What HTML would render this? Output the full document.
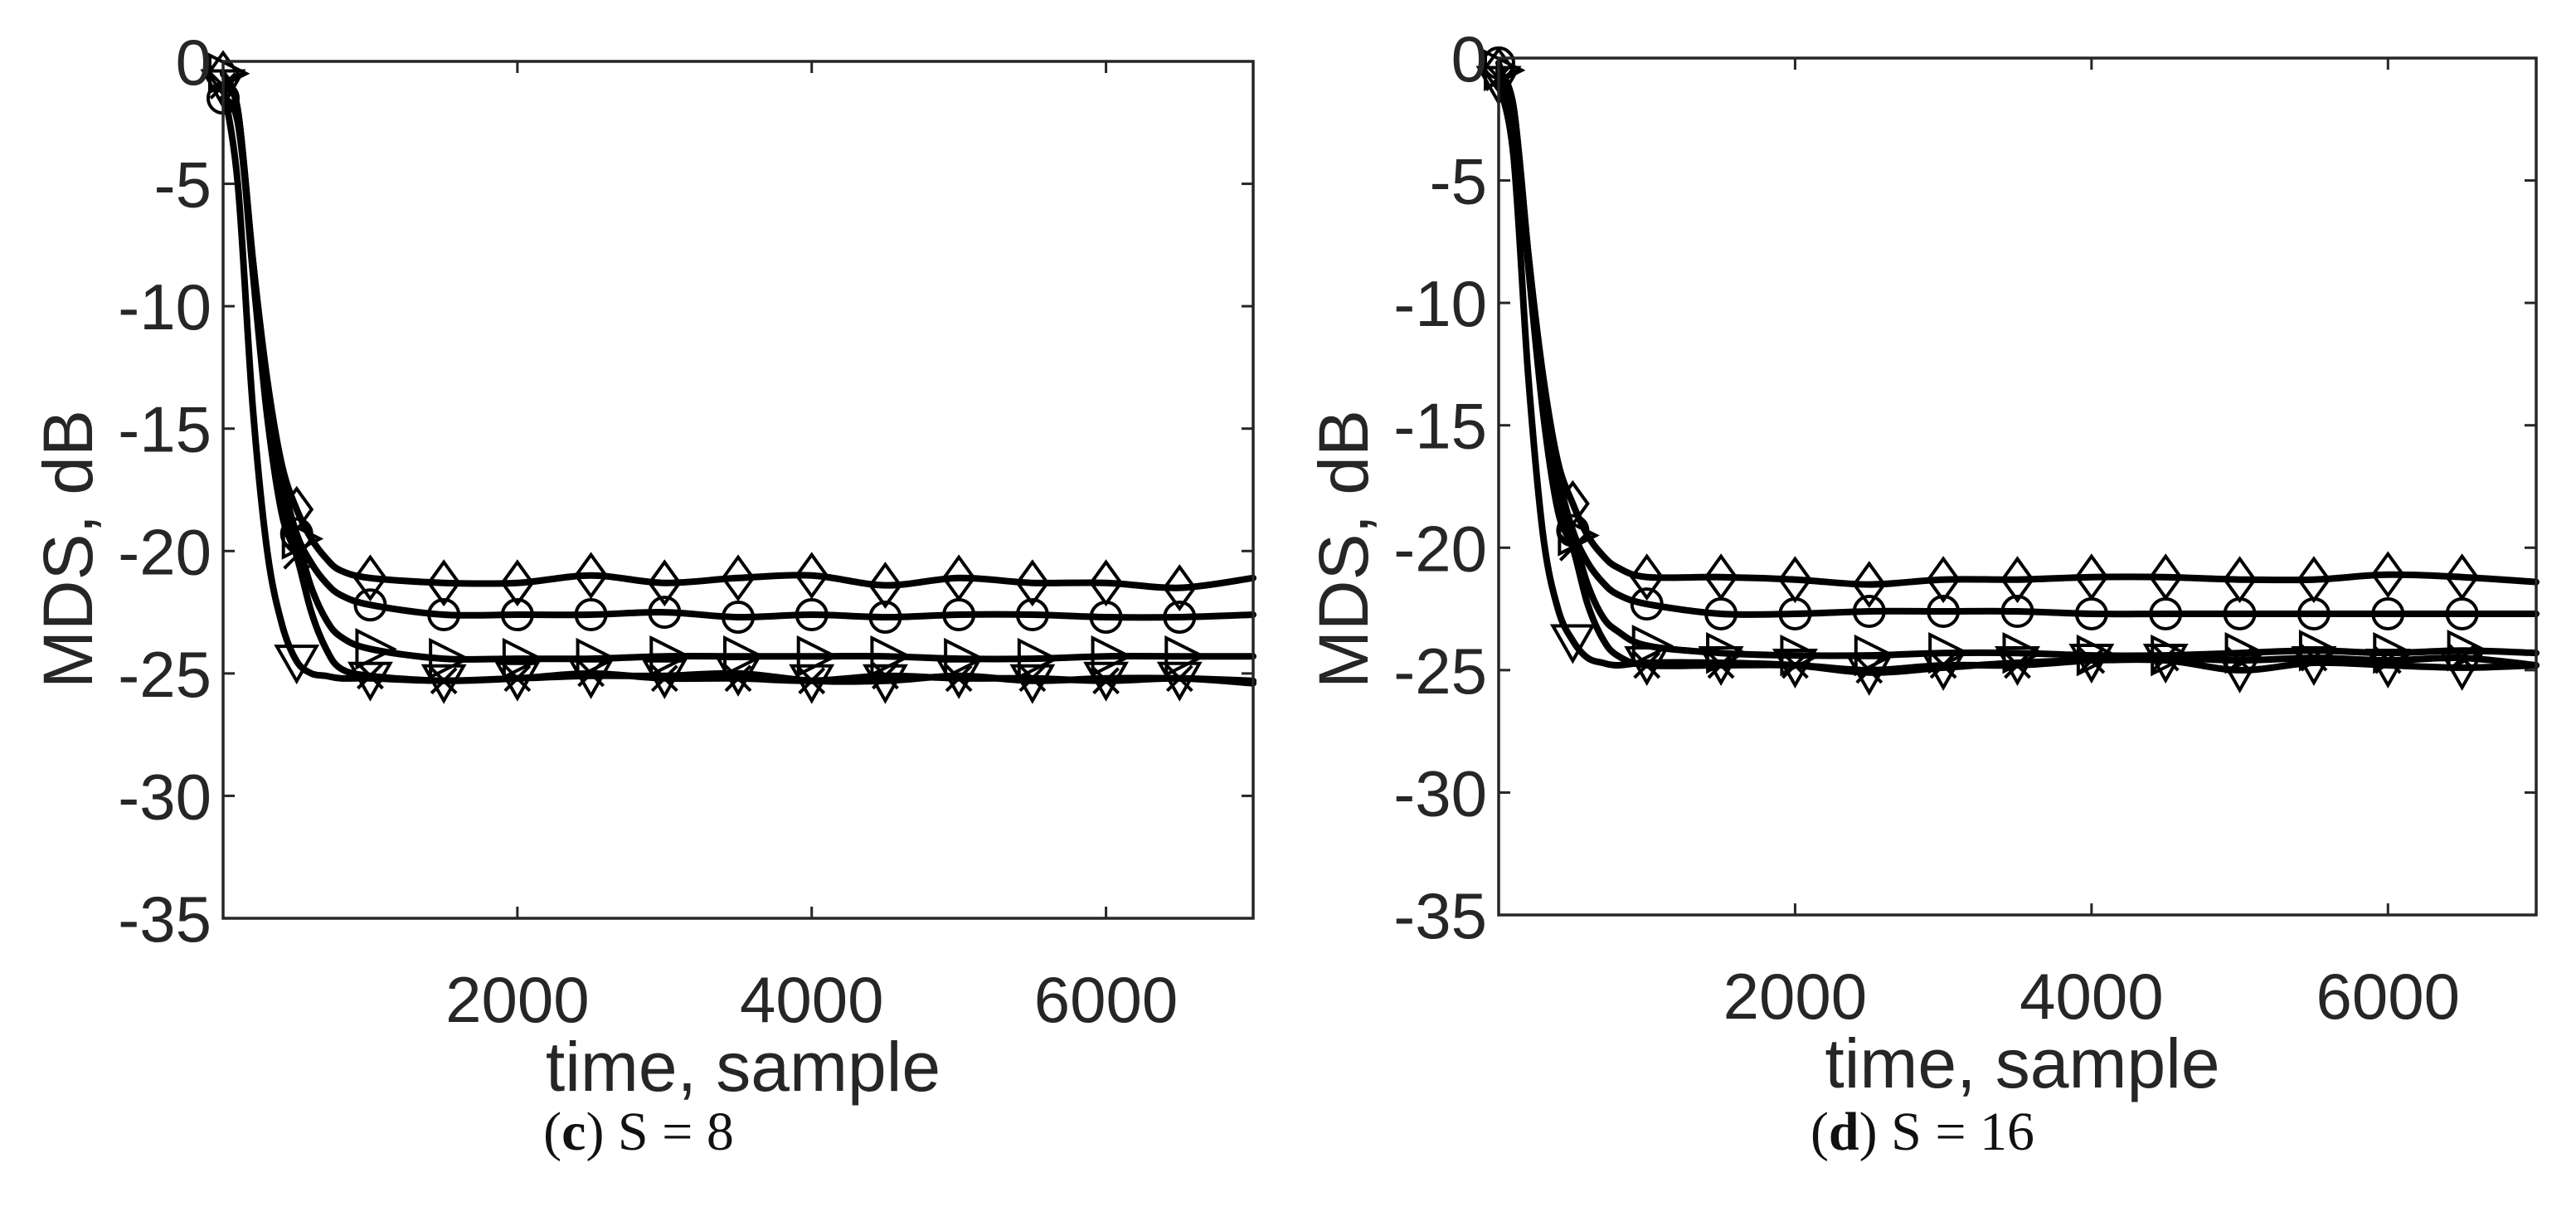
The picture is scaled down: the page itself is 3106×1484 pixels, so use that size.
<!DOCTYPE html>
<html><head><meta charset="utf-8"><style>
html,body{margin:0;padding:0;background:#fff;}
svg{display:block;}
text{font-family:"Liberation Sans",sans-serif;fill:#262626;}
.cap{font-family:"Liberation Serif",serif;fill:#111;}
</style></head><body>
<svg id="fig" width="3106" height="1484" viewBox="0 0 3106 1484" xmlns="http://www.w3.org/2000/svg"></svg>
<script>
const times = [0,100,200,300,400,500,600,700,800,1000,1500,2000,2500,3000,3500,4000,4500,5000,5500,6000,6500,7000];
const markerTimes = [0,500,1000,1500,2000,2500,3000,3500,4000,4500,5000,5500,6000,6500];
const xTicks = [2000,4000,6000];
const yTicks = [0,-5,-10,-15,-20,-25,-30,-35];
// panel c (S = 8)
const cDiamond = [-0.5,-2,-8,-13,-16.5,-18.3,-19.5,-20.3,-20.8,-21.1,-21.3,-21.3,-21.0,-21.3,-21.1,-21.0,-21.4,-21.1,-21.3,-21.3,-21.5,-21.1];
const cCircle  = [-1.5,-2.5,-8,-13.5,-17,-19.3,-20.5,-21.3,-21.8,-22.2,-22.6,-22.6,-22.6,-22.5,-22.7,-22.6,-22.7,-22.6,-22.6,-22.7,-22.7,-22.6];
const cRight   = [-0.5,-2,-8,-14,-18,-19.5,-21.5,-22.8,-23.5,-24.0,-24.4,-24.4,-24.4,-24.3,-24.3,-24.3,-24.3,-24.4,-24.4,-24.3,-24.3,-24.3];
const cCross   = [-1,-2,-8.5,-14.5,-18.5,-20.2,-22.5,-24,-24.8,-25.1,-25.3,-25.2,-25.0,-25.2,-25.2,-25.3,-25.1,-25.2,-25.2,-25.3,-25.2,-25.4];
const cDown    = [-1,-5,-14,-20,-23,-24.5,-25,-25.1,-25.2,-25.2,-25.3,-25.2,-25.1,-25.1,-25.0,-25.3,-25.3,-25.1,-25.3,-25.2,-25.2,-25.3];
// panel d (S = 16)
const dDiamond = [-0.5,-2,-8,-13,-16.5,-18.2,-19.5,-20.3,-20.8,-21.2,-21.2,-21.3,-21.5,-21.3,-21.3,-21.2,-21.2,-21.3,-21.3,-21.1,-21.2,-21.4];
const dCircle  = [-0.2,-2.5,-8,-13.5,-17,-19.3,-20.6,-21.4,-21.9,-22.3,-22.7,-22.7,-22.6,-22.6,-22.6,-22.7,-22.7,-22.7,-22.7,-22.7,-22.7,-22.7];
const dRight   = [-0.5,-2,-8,-14,-18,-19.5,-21.5,-22.8,-23.4,-24.0,-24.3,-24.4,-24.4,-24.3,-24.3,-24.4,-24.4,-24.3,-24.2,-24.3,-24.2,-24.3];
const dCross   = [-0.8,-2,-8.5,-14.5,-18.5,-20.0,-22.3,-23.7,-24.4,-24.8,-24.8,-24.8,-25.0,-24.8,-24.8,-24.6,-24.5,-24.6,-24.5,-24.6,-24.5,-24.8];
const dDown    = [-1,-4,-13,-19.5,-22.5,-23.8,-24.5,-24.7,-24.8,-24.7,-24.7,-24.8,-25.1,-24.9,-24.7,-24.6,-24.6,-25.0,-24.7,-24.8,-24.9,-24.8];

const NS='http://www.w3.org/2000/svg';
const fig=document.getElementById('fig');
function el(tag,attrs,parent){const e=document.createElementNS(NS,tag);for(const k in attrs)e.setAttribute(k,attrs[k]);(parent||fig).appendChild(e);return e;}

function interp(arr,t){for(let i=1;i<times.length;i++){if(t<=times[i]){const f=(t-times[i-1])/(times[i]-times[i-1]);return arr[i-1]+f*(arr[i]-arr[i-1]);}}return arr[arr.length-1];}

function smoothPath(pts){
  let d='M'+pts[0][0].toFixed(1)+','+pts[0][1].toFixed(1);
  for(let i=0;i<pts.length-1;i++){
    const p0=pts[i-1]||pts[i],p1=pts[i],p2=pts[i+1],p3=pts[i+2]||p2;
    const c1=[p1[0]+(p2[0]-p0[0])/6,p1[1]+(p2[1]-p0[1])/6];
    const c2=[p2[0]-(p3[0]-p1[0])/6,p2[1]-(p3[1]-p1[1])/6];
    d+='C'+c1[0].toFixed(1)+','+c1[1].toFixed(1)+' '+c2[0].toFixed(1)+','+c2[1].toFixed(1)+' '+p2[0].toFixed(1)+','+p2[1].toFixed(1);
  }
  return d;
}

function marker(g,type,x,y){
  const st={fill:'none',stroke:'#000','stroke-width':4};
  let m;
  if(type==='diamond'){m=el('polygon',Object.assign({points:`${x},${y-25} ${x+18},${y} ${x},${y+25} ${x-18},${y}`},st),g);}
  else if(type==='circle'){m=el('circle',Object.assign({cx:x,cy:y,r:18},st),g);}
  else if(type==='right'){m=el('polygon',Object.assign({points:`${x-16},${y-22} ${x+28},${y} ${x-16},${y+22}`},st),g);}
  else if(type==='cross'){m=el('path',Object.assign({d:`M${x-15},${y-15}L${x+15},${y+15}M${x+15},${y-15}L${x-15},${y+15}`},st),g);}
  else {m=el('polygon',Object.assign({points:`${x-24},${y-18} ${x+24},${y-18} ${x},${y+24}`},st),g);}
  
  
}

function panel(p){
  const g=el('g',{});
  
  
  const X=t=>p.x0+(t/7000)*(p.x1-p.x0);
  const Y=v=>p.y0+(-v/35)*(p.y1-p.y0);
  p.series.forEach(s=>{
    const pts=times.map((t,i)=>[X(t),Y(s.vals[i])]);
    const line=el('path',{d:smoothPath(pts),fill:'none',stroke:'#000','stroke-width':8,'stroke-linejoin':'round','stroke-linecap':'round'},g);
    
    
  });
  p.series.forEach(s=>{
    markerTimes.forEach(t=>marker(g,s.type,X(t),Y(interp(s.vals,t))));
  });
  const box=el('rect',{x:p.x0,y:p.y0,width:p.x1-p.x0,height:p.y1-p.y0,fill:'none',stroke:'#262626','stroke-width':3.5},g);
  
  
  xTicks.forEach(t=>{
    el('line',{x1:X(t),x2:X(t),y1:p.y1,y2:p.y1-14,stroke:'#262626','stroke-width':3},g);
    el('line',{x1:X(t),x2:X(t),y1:p.y0,y2:p.y0+14,stroke:'#262626','stroke-width':3},g);
    const tx=el('text',{x:X(t),y:p.y1+125,'font-size':78,'text-anchor':'middle'},g);
    tx.textContent=t;
    
    
  });
  yTicks.forEach(v=>{
    el('line',{x1:p.x0,x2:p.x0+14,y1:Y(v),y2:Y(v),stroke:'#262626','stroke-width':3},g);
    el('line',{x1:p.x1,x2:p.x1-14,y1:Y(v),y2:Y(v),stroke:'#262626','stroke-width':3},g);
    const ty=el('text',{x:p.x0-14,y:Y(v)+28,'font-size':78,'text-anchor':'end'},g);
    ty.textContent=v;
    
    
  });
  const xt=el('text',{x:(p.x0+p.x1)/2+6,y:p.y1+208,'font-size':84,'text-anchor':'middle'},g);
  xt.textContent='time, sample';
  
  
  const yt=el('text',{x:0,y:0,'font-size':84,'text-anchor':'middle',transform:`translate(${p.x0-158},${662}) rotate(-90)`},g);
  yt.textContent='MDS, dB';
  
  
  const cap=el('text',{x:p.capX,y:1386,'font-size':66,'text-anchor':'middle',class:'cap'},g);
  cap.innerHTML='(<tspan font-weight="bold">'+p.letter+'</tspan>) S = '+p.S;
  
  
}

panel({name:'panel-c',x0:269,x1:1511,y0:74,y1:1107,capX:770,letter:'c',S:'8',series:[
  {name:'diamond',type:'diamond',vals:cDiamond},{name:'circle',type:'circle',vals:cCircle},
  {name:'right-triangle',type:'right',vals:cRight},{name:'cross',type:'cross',vals:cCross},
  {name:'down-triangle',type:'down',vals:cDown}]});
panel({name:'panel-d',x0:1807,x1:3058,y0:70,y1:1103,capX:2318,letter:'d',S:'16',series:[
  {name:'diamond',type:'diamond',vals:dDiamond},{name:'circle',type:'circle',vals:dCircle},
  {name:'right-triangle',type:'right',vals:dRight},{name:'cross',type:'cross',vals:dCross},
  {name:'down-triangle',type:'down',vals:dDown}]});
</script>
</body></html>
